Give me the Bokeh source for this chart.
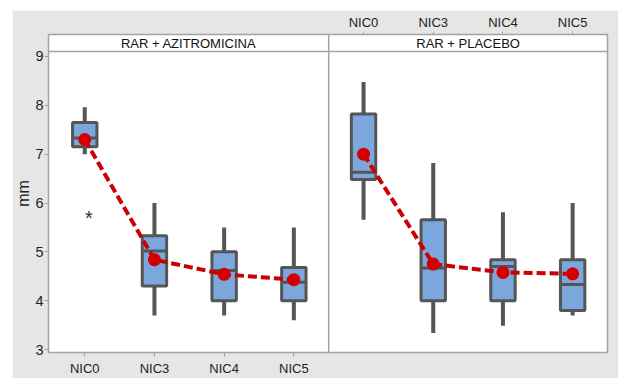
from bokeh.plotting import figure
from bokeh.models import LinearAxis, FixedTicker, Range1d, Span, Label
from bokeh.core.properties import value
from bokeh.embed import file_html
from bokeh.resources import INLINE

categories = ["NIC0", "NIC3", "NIC4", "NIC5"]
panels = ["RAR + AZITROMICINA", "RAR + PLACEBO"]
y_ticks = [3, 4, 5, 6, 7, 8, 9]

# RAR + AZITROMICINA
azi_low = [7.0, 3.7, 3.7, 3.6]
azi_q1 = [7.15, 4.3, 4.0, 4.0]
azi_med = [7.33, 5.02, 4.62, 4.38]
azi_q3 = [7.65, 5.33, 5.0, 4.68]
azi_high = [7.96, 6.0, 5.5, 5.5]
azi_mean = [7.3, 4.84, 4.54, 4.43]
azi_outlier_cat = "NIC0"
azi_outlier_val = 5.8

# RAR + PLACEBO
pla_low = [5.66, 3.34, 3.49, 3.70]
pla_q1 = [6.48, 4.0, 4.0, 3.80]
pla_med = [6.63, 4.67, 4.70, 4.33]
pla_q3 = [7.82, 5.66, 4.84, 4.84]
pla_high = [8.48, 6.82, 5.81, 6.0]
pla_mean = [7.0, 4.75, 4.58, 4.55]

FONT = "Liberation Sans"
DARK = "#555555"
FRAME = "#a3a3a3"
BOXW = 0.35
n = len(categories)

x_start, x_end = -0.52, 2 * n - 0.5
y_start, y_end = 2.94, 9.45
strip_y = 9.10

p = figure(width=606, height=368, x_range=Range1d(x_start, x_end),
           y_range=Range1d(y_start, y_end), output_backend="svg",
           toolbar_location=None, x_axis_location=None,
           min_border_left=36, min_border_top=24, min_border_right=11,
           min_border_bottom=23)
p.margin = (10, 0, 0, 12)
p.border_fill_color = "#e6e6e6"
p.background_fill_color = "white"
p.outline_line_color = FRAME
p.outline_line_width = 1.5
p.grid.visible = False

# y axis
ya = p.yaxis[0]
ya.ticker = FixedTicker(ticks=y_ticks)
ya.bounds = (y_start, strip_y)
ya.axis_line_color = None
ya.major_tick_line_color = FRAME
ya.major_tick_out = 4
ya.major_tick_in = 0
ya.minor_tick_line_color = None
ya.major_label_text_font = FONT
ya.major_label_text_font_size = "14.5px"
ya.major_label_text_color = "#222222"
ya.major_label_standoff = 1
ya.axis_label = "mm"
ya.axis_label_text_font = FONT
ya.axis_label_text_font_size = "16px"
ya.axis_label_text_font_style = "normal"
ya.axis_label_text_color = "#222222"
ya.axis_label_standoff = 0


def cat_axis(offset, loc, tick_out, standoff):
    ticks = [offset + i for i in range(n)]
    ax = LinearAxis(ticker=FixedTicker(ticks=ticks),
                    major_label_overrides={t: c for t, c in zip(ticks, categories)},
                    bounds=(offset - 0.5, offset + n - 0.5))
    ax.axis_line_color = FRAME
    ax.major_tick_line_color = FRAME
    ax.major_tick_out = tick_out
    ax.major_tick_in = 0
    ax.minor_tick_line_color = None
    ax.major_label_text_font = FONT
    ax.major_label_text_font_size = "13px"
    ax.major_label_text_color = "#222222"
    ax.major_label_standoff = standoff
    p.add_layout(ax, loc)


cat_axis(0, "below", 4, 4)
cat_axis(n, "above", 3, 2)

# strip header and panel divider
p.add_layout(Span(location=strip_y, dimension="width", line_color=FRAME, line_width=1.5))
p.add_layout(Span(location=n - 0.5, dimension="height", line_color=FRAME, line_width=1.5))
centers = [(x_start + n - 0.5) / 2, (n - 0.5 + x_end) / 2]
for cx, name in zip(centers, panels):
    p.add_layout(Label(x=cx, y=(strip_y + y_end) / 2, text=name, text_align="center",
                       text_baseline="middle", text_font=FONT, text_font_size="13px",
                       text_color="#111111"))

series = [
    (0, azi_low, azi_q1, azi_med, azi_q3, azi_high, azi_mean),
    (n, pla_low, pla_q1, pla_med, pla_q3, pla_high, pla_mean),
]
for off, lo, q1, med, q3, hi, mean in series:
    xs = [off + i for i in range(n)]
    p.segment(xs, q3, xs, hi, line_color=DARK, line_width=4)
    p.segment(xs, lo, xs, q1, line_color=DARK, line_width=4)
    p.vbar(x=xs, width=BOXW, bottom=q1, top=q3, fill_color="#7ba7dc",
           line_color=DARK, line_width=3)
    p.segment([x - BOXW / 2 for x in xs], med, [x + BOXW / 2 for x in xs], med,
              line_color=DARK, line_width=3)
    p.line(xs, mean, line_color="#cc0000", line_width=4, line_dash="9 4")
    p.scatter(xs, mean, size=13, fill_color="#d40000", line_color=None)

ox = categories.index(azi_outlier_cat) + 0.06
p.text(x=[ox], y=[azi_outlier_val], text=["*"], text_align="center",
       text_baseline="middle", text_font=value(FONT), text_font_size="20px",
       text_color="#333333", y_offset=5)

open("out.html", "w").write(file_html(p, INLINE))
